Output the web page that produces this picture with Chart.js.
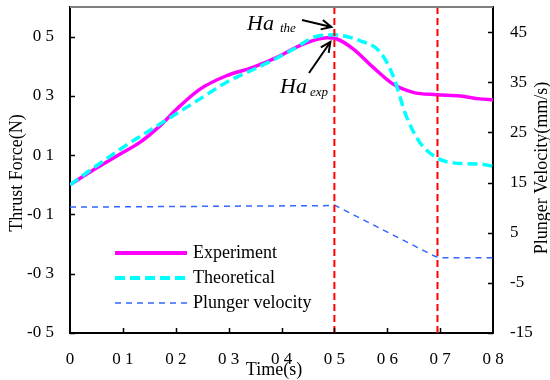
<!DOCTYPE html>
<html>
<head>
<meta charset="utf-8">
<script src="https://cdn.jsdelivr.net/npm/chart.js@4"></script>
<style>
  body { margin: 0; background: #fff; }
  canvas { display: block; }
</style>
</head>
<body>
<canvas id="forceChart" width="550" height="380"></canvas>
<script>
// time (s) and thrust force (N)
var expTime  = [0, 0.047, 0.095, 0.132, 0.17, 0.202, 0.246, 0.296, 0.347, 0.391, 0.435, 0.486, 0.505, 0.536, 0.573, 0.611, 0.649, 0.693, 0.738, 0.775, 0.8];
var expForce = [0, 0.053, 0.104, 0.143, 0.199, 0.256, 0.323, 0.368, 0.397, 0.43, 0.47, 0.496, 0.492, 0.458, 0.397, 0.34, 0.312, 0.304, 0.30, 0.29, 0.287];

var theTime  = [0, 0.035, 0.095, 0.17, 0.246, 0.296, 0.36, 0.423, 0.461, 0.499, 0.549, 0.587, 0.611, 0.636, 0.662, 0.693, 0.725, 0.775, 0.8];
var theForce = [0, 0.045, 0.12, 0.205, 0.29, 0.346, 0.40, 0.458, 0.498, 0.506, 0.486, 0.447, 0.368, 0.232, 0.142, 0.092, 0.074, 0.07, 0.063];

// plunger velocity (mm/s), right axis
var velTime  = [0, 0.49, 0.5, 0.69, 0.7, 0.8];
var velValue = [10.1, 10.4, 10.5, 0.3, 0, 0];

// vertical markers (s)
var markerTimes = [0.5, 0.695];

var forceTicks = [-0.5, -0.3, -0.1, 0.1, 0.3, 0.5];
var velTicks = [-15, -5, 5, 15, 25, 35, 45];

var serif = '"Liberation Serif", "Times New Roman", serif';

function pts(xs, ys) {
	return xs.map(function(x, i) { return {x: x, y: ys[i]}; });
}

// labels in the picture lose their decimal point
function tickText(v) {
	if (v === 0) return '0';
	return v.toFixed(1).replace('.', ' ');
}

function fixSize(prop, size) {
	return function(scale) {
		scale[prop] = size;
		scale.paddingTop = 0; scale.paddingBottom = 0;
		scale.paddingLeft = 0; scale.paddingRight = 0;
	};
}

var datasets = [];
markerTimes.forEach(function(t) {
	datasets.push({
		data: [{x: t, y: -0.5}, {x: t, y: 0.6}],
		yAxisID: 'y', borderColor: '#ff0000', borderWidth: 2,
		borderDash: [7, 4], pointRadius: 0, order: 0
	});
});
datasets.push({
	label: 'Theoretical', data: pts(theTime, theForce), yAxisID: 'y',
	borderColor: '#00ffff', borderWidth: 3.5, borderDash: [10, 5],
	cubicInterpolationMode: 'monotone', pointRadius: 0, order: 1
});
datasets.push({
	label: 'Experiment', data: pts(expTime, expForce), yAxisID: 'y',
	borderColor: '#ff00ff', borderWidth: 3.5,
	cubicInterpolationMode: 'monotone', pointRadius: 0, order: 2
});
datasets.push({
	label: 'Plunger velocity', data: pts(velTime, velValue), yAxisID: 'y1',
	borderColor: '#3366ff', borderWidth: 1.5, borderDash: [6, 5],
	tension: 0, pointRadius: 0, order: 3
});

function arrow(ctx, x1, y1, x2, y2) {
	var ang = Math.atan2(y2 - y1, x2 - x1), h = 11;
	ctx.beginPath();
	ctx.moveTo(x1, y1); ctx.lineTo(x2, y2);
	ctx.moveTo(x2 - h * Math.cos(ang - 0.45), y2 - h * Math.sin(ang - 0.45));
	ctx.lineTo(x2, y2);
	ctx.lineTo(x2 - h * Math.cos(ang + 0.45), y2 - h * Math.sin(ang + 0.45));
	ctx.stroke();
}

var decorations = {
	id: 'decorations',
	afterDraw: function(chart) {
		var ctx = chart.ctx, a = chart.chartArea;
		var sx = chart.scales.x, sy = chart.scales.y, sy1 = chart.scales.y1;
		ctx.save();

		// grey top frame
		ctx.strokeStyle = '#808080'; ctx.lineWidth = 2;
		ctx.beginPath(); ctx.moveTo(a.left, a.top); ctx.lineTo(a.right, a.top); ctx.stroke();

		// inward tick marks
		ctx.strokeStyle = '#000'; ctx.lineWidth = 1.5;
		ctx.beginPath();
		forceTicks.forEach(function(v) {
			var y = Math.round(sy.getPixelForValue(v)) + 0.5;
			ctx.moveTo(a.left, y); ctx.lineTo(a.left + 5, y);
		});
		velTicks.forEach(function(v) {
			var y = Math.round(sy1.getPixelForValue(v)) + 0.5;
			ctx.moveTo(a.right, y); ctx.lineTo(a.right - 5, y);
		});
		for (var i = 1; i < 8; i++) {
			var x = Math.round(sx.getPixelForValue(i / 10)) + 0.5;
			ctx.moveTo(x, a.bottom); ctx.lineTo(x, a.bottom - 5);
		}
		ctx.stroke();

		// axis titles
		ctx.fillStyle = '#000';
		ctx.font = '18px ' + serif;
		ctx.textAlign = 'center'; ctx.textBaseline = 'middle';
		ctx.fillText('Time(s)', 274, 370);
		ctx.save(); ctx.translate(17, 173); ctx.rotate(-Math.PI / 2);
		ctx.fillText('Thrust Force(N)', 0, 0); ctx.restore();
		ctx.save(); ctx.translate(542, 168); ctx.rotate(-Math.PI / 2);
		ctx.fillText('Plunger Velocity(mm/s)', 0, 0); ctx.restore();

		// legend
		var rows = [
			{t: 'Experiment', c: '#ff00ff', w: 4, d: []},
			{t: 'Theoretical', c: '#00ffff', w: 4, d: [10, 5]},
			{t: 'Plunger velocity', c: '#3366ff', w: 1.5, d: [6, 5]}
		];
		ctx.textAlign = 'left';
		rows.forEach(function(r, k) {
			var y = 253 + k * 25;
			ctx.strokeStyle = r.c; ctx.lineWidth = r.w; ctx.setLineDash(r.d);
			ctx.beginPath(); ctx.moveTo(115, y); ctx.lineTo(187, y); ctx.stroke();
			ctx.setLineDash([]);
			ctx.fillStyle = '#000';
			ctx.fillText(r.t, 193, y);
		});

		// peak annotations
		var px = sx.getPixelForValue(0.5);
		ctx.textBaseline = 'alphabetic';
		ctx.font = 'italic 22px ' + serif;
		ctx.fillText('Ha', 247, 30);
		ctx.fillText('Ha', 280, 93);
		ctx.font = 'italic 13px ' + serif;
		ctx.fillText('the', 280, 32);
		ctx.fillText('exp', 310, 96);
		ctx.strokeStyle = '#000'; ctx.lineWidth = 2;
		arrow(ctx, 302, 20, px - 3, 27);
		arrow(ctx, 309, 73, px - 4, 42);

		ctx.restore();
	}
};

new Chart(document.getElementById('forceChart'), {
	type: 'line',
	data: { datasets: datasets },
	options: {
		responsive: false,
		animation: false,
		devicePixelRatio: 1,
		layout: { padding: { top: 7, left: 0, right: 0, bottom: 0 } },
		plugins: { legend: { display: false }, tooltip: { enabled: false } },
		scales: {
			x: {
				type: 'linear', min: 0, max: 0.8,
				grid: { display: false, drawTicks: false },
				border: { color: '#000', width: 2 },
				ticks: { stepSize: 0.1, padding: 16, color: '#000',
					font: { family: serif, size: 17 },
					callback: function(v) { return tickText(v); } },
				afterFit: fixSize('height', 47)
			},
			y: {
				position: 'left', min: -0.5, max: 0.6,
				grid: { display: false, drawTicks: false },
				border: { color: '#000', width: 2 },
				afterBuildTicks: function(s) { s.ticks = forceTicks.map(function(v) { return {value: v}; }); },
				ticks: { padding: 16, color: '#000', font: { family: serif, size: 17 },
					callback: function(v) { return tickText(v); } },
				afterFit: fixSize('width', 70)
			},
			y1: {
				position: 'right', min: -15, max: 50,
				grid: { display: false, drawTicks: false },
				border: { color: '#000', width: 2 },
				afterBuildTicks: function(s) { s.ticks = velTicks.map(function(v) { return {value: v}; }); },
				ticks: { padding: 17, color: '#000', font: { family: serif, size: 17 } },
				afterFit: fixSize('width', 57)
			}
		}
	},
	plugins: [decorations]
});
</script>
</body>
</html>
